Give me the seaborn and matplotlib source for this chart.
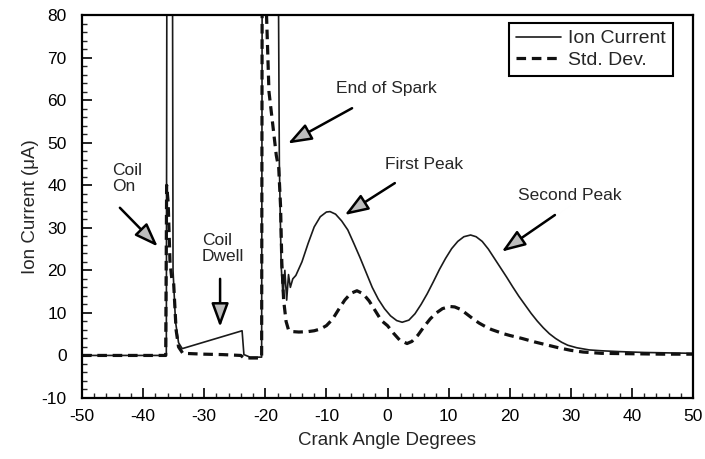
import matplotlib
matplotlib.use("Agg")
import matplotlib.pyplot as plt
import seaborn as sns
import pandas as pd
from matplotlib.ticker import MultipleLocator
from matplotlib.lines import Line2D

# ---- data ----
ion_x = [-50, -36.2, -36.1, -35.2, -35.1, -34.7, -34.2, -33.6, -23.8, -23.5, -22.5, -20.6,
         -20.5, -20.2, -19.8, -19.4, -19.0, -18.6, -18.2, -17.9, -17.7, -17.4, -17.1, -16.8,
         -16.5, -16.2, -15.9, -15.5, -15.0, -14.0, -13.0, -12.0, -11.0, -10.0, -9.4, -8.5,
         -7.5, -6.5, -5.5, -4.5, -3.5, -2.5, -1.5, -0.5, 0.5, 1.5, 2.4, 3.5, 4.5, 5.5, 6.5,
         7.5, 8.5, 9.5, 10.5, 11.5, 12.5, 13.6, 14.5, 15.5, 16.5, 17.5, 18.5, 19.5, 20.5,
         21.5, 22.5, 23.5, 24.5, 25.5, 26.5, 27.5, 28.5, 29.5, 31, 33, 35, 38, 42, 46, 50]
ion_y = [0, 0, 100, 100, 20, 8, 3, 1.6, 5.8, 0.2, -0.4, -0.4,
         100, 92, 100, 88, 100, 90, 100, 100, 45, 21, 14, 20,
         13, 19, 16, 18, 18.8, 22, 26.3, 30.2, 32.6, 33.7, 33.8, 33.2,
         31.6, 29.5, 26.3, 23, 19.5, 16, 13.2, 11, 9.3, 8.2, 7.8, 8.3, 9.8, 12, 14.5,
         17.3, 20.2, 22.8, 25.1, 26.8, 27.9, 28.3, 27.9, 26.8, 25, 22.8, 20.6, 18.4, 16.1,
         13.9, 11.9, 9.9, 8.1, 6.5, 5.1, 4.0, 3.1, 2.4, 1.8, 1.3, 1.1, 0.9, 0.7, 0.6, 0.5]

std_x = [-50, -36.3, -36.15, -35.9, -35.6, -35.3, -35.0, -34.6, -34.2, -33.5, -30, -27, -24,
         -23.5, -21, -20.6, -20.5, -19.8, -19.4, -19.0, -18.6, -18.2, -17.8, -17.5, -17.3,
         -17.0, -16.6, -16.2, -15.5, -14.5, -13, -12, -11, -10, -9, -8, -7, -6, -5, -4, -3,
         -2, -1, 0, 1, 2, 3.2, 4, 5, 6, 7, 8, 9, 10.2, 11, 12, 13, 14, 15, 16, 17, 18, 19,
         20, 22, 24, 26, 28, 30, 32, 35, 40, 45, 50]
std_y = [0, 0, 40, 36, 22, 18, 17, 6, 2, 0.5, 0.3, 0.2, 0,
         -0.6, -0.6, -0.5, 100, 80, 62, 57, 52, 47, 44, 35, 22,
         13, 8, 6, 5.6, 5.5, 5.6, 5.8, 6.2, 7, 8.5, 10.8, 13, 14.6, 15.2, 14.5, 12.8,
         10.5, 8.2, 7.0, 5.2, 3.6, 2.8, 3.3, 4.8, 6.8, 8.6, 10, 11, 11.5, 11.4, 10.8, 9.7,
         8.6, 7.6, 6.8, 6.1, 5.6, 5.1, 4.7, 4.0, 3.2, 2.5, 1.8, 1.2, 0.8, 0.5, 0.4, 0.3, 0.3]

series_labels = ["Ion Current", "Std. Dev."]
x_ticks = [-50, -40, -30, -20, -10, 0, 10, 20, 30, 40, 50]
y_ticks = [-10, 0, 10, 20, 30, 40, 50, 60, 70, 80]

# annotations: text, text anchor (x, y), arrow tail, arrow head
ann_texts = ["Coil\nOn", "Coil\nDwell", "End of Spark", "First Peak", "Second Peak"]
ann_text_xy = [(-45.1, 45.3), (-30.4, 28.8), (-0.2, 62.7), (6.0, 44.9), (29.9, 37.7)]
ann_tail = [(-43.8, 34.7), (-27.4, 18.0), (-5.8, 58.1), (1.2, 40.5), (27.4, 33.0)]
ann_head = [(-37.6, 25.6), (-27.4, 6.7), (-16.3, 49.8), (-7.0, 33.0), (18.7, 24.4)]

# ---- style ----
sns.set_style("ticks")
plt.rcParams["font.family"] = ["Liberation Sans", "DejaVu Sans"]
plt.rcParams["axes.unicode_minus"] = False

fig = plt.figure(figsize=(7.05, 4.59), dpi=100)
ax = fig.add_axes([82 / 705, 1 - 398 / 459, 611 / 705, 383 / 459])

ion_df = pd.DataFrame({"x": ion_x, "y": ion_y})
std_df = pd.DataFrame({"x": std_x, "y": std_y})

dash = (0, (3.0, 1.8))
sns.lineplot(data=ion_df, x="x", y="y", sort=False, estimator=None, ax=ax,
             color="#1a1a1a", linewidth=1.2)
sns.lineplot(data=std_df, x="x", y="y", sort=False, estimator=None, ax=ax,
             color="#111111", linewidth=2.3, linestyle=dash)

ax.set_xlim(-50, 50)
ax.set_ylim(-10, 80)
ax.set_xticks(x_ticks)
ax.set_yticks(y_ticks)
ax.xaxis.set_minor_locator(MultipleLocator(2))
ax.yaxis.set_minor_locator(MultipleLocator(2))
ax.tick_params(axis="both", which="major", direction="in", length=7, width=1.2,
               labelsize=12.5, colors="black")
ax.tick_params(axis="x", which="major", pad=8)
ax.tick_params(axis="y", which="major", pad=11)
ax.tick_params(axis="both", which="minor", direction="in", length=3.5, width=1.0)
ax.tick_params(top=False, right=False, which="both")
for sp in ax.spines.values():
    sp.set_visible(True)
    sp.set_linewidth(1.6)
    sp.set_color("black")

ax.set_xlabel("Crank Angle Degrees", fontsize=13.5, labelpad=6)
ax.set_ylabel("Ion Current (\u03bcA)", fontsize=13.5, labelpad=2)

for t, txy, tail, head in zip(ann_texts, ann_text_xy, ann_tail, ann_head):
    if "\n" in t:
        ax.text(txy[0], txy[1], t, ha="left", va="top", fontsize=12.5,
                multialignment="left", linespacing=1.1)
    else:
        ax.text(txy[0], txy[1], t, ha="center", va="center", fontsize=12.5)
    ax.annotate("", xy=head, xytext=tail,
                arrowprops=dict(arrowstyle="-|>,head_length=0.6,head_width=0.22",
                                mutation_scale=24, facecolor="#bdbdbd",
                                edgecolor="black", linewidth=1.8,
                                shrinkA=0, shrinkB=0))

handles = [Line2D([], [], color="#1a1a1a", linewidth=1.2),
           Line2D([], [], color="#111111", linewidth=2.3, linestyle=dash)]
leg = ax.legend(handles, series_labels, loc="upper right",
                bbox_to_anchor=(0.967, 0.979), borderaxespad=0, fontsize=14,
                frameon=True, fancybox=False, edgecolor="black", framealpha=1,
                handlelength=2.3, handletextpad=0.4, labelspacing=0.2,
                borderpad=0.35)
leg.get_frame().set_linewidth(1.5)

fig.savefig("out.png", dpi=100)
